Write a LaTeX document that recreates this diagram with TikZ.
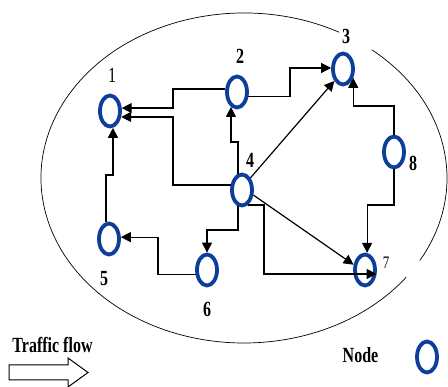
\documentclass[tikz,border=0pt]{standalone}
\usepackage{fontspec}
\usepackage{graphicx}
\setmainfont{Liberation Serif}
\usetikzlibrary{shapes.geometric,arrows.meta}
\definecolor{nodeblue}{RGB}{14,62,155}
\tikzset{
  netnode/.style={ellipse, draw=nodeblue, line width=3.8pt, fill=white,
    minimum width=20pt, minimum height=31pt, inner sep=0pt},
  lbl/.style={font=\fontsize{16}{16}\selectfont\bfseries, inner sep=0pt},
  lblr/.style={font=\fontsize{16}{16}\selectfont, inner sep=0pt},
  conn/.style={line width=1.2pt, -{Triangle[length=10pt,width=10pt]}},
  boundary/.style={line width=0.7pt},
  flowarrow/.style={line width=1pt, fill=white}
}
\newcommand{\stretchtxt}[1]{\scalebox{1}[1.35]{#1}}
\begin{document}
\begin{tikzpicture}[x=1pt,y=-1pt]
\useasboundingbox (0,0) rectangle (448,387);

% boundary ellipse with two gaps
\draw[boundary] (244,178) ++(-62:203 and 165) arc[start angle=-62, end angle=-323, x radius=203, y radius=165];
\draw[boundary] (244,178) ++(30:203 and 165) arc[start angle=30, end angle=-51, x radius=203, y radius=165];

% nodes
\node[netnode] (n1) at (110,111) {};
\node[netnode] (n2) at (237,92) {};
\node[netnode] (n3) at (343,69) {};
\node[netnode] (n4) at (242,190) {};
\node[netnode] (n5) at (109,239) {};
\node[netnode] (n6) at (207,270) {};
\node[netnode] (n7) at (365,270) {};
\node[netnode] (n8) at (394,152) {};
\node[netnode] (leg) at (427,357) {};

% labels
\node[lblr] (l1) at (112,75) {\stretchtxt{1}};
\node[lbl] (l2) at (240,56) {\stretchtxt{2}};
\node[lbl] (l3) at (346,36) {\stretchtxt{3}};
\node[lbl] (l4) at (250,160) {\stretchtxt{4}};
\node[lbl] (l5) at (104,279) {\stretchtxt{5}};
\node[lbl] (l6) at (207,309) {\stretchtxt{6}};
\node[lblr, font=\fontsize{13}{13}\selectfont] (l7) at (386,263) {\stretchtxt{7}};
\node[lbl] (l8) at (413,163) {\stretchtxt{8}};
\node[lbl] (tf) at (52.5,345) {\stretchtxt{Traffic flow}};
\node[lbl] (nd) at (360.5,355) {\stretchtxt{Node}};

% connectors
\draw[conn] (n2.166) -- (n2.166 -| 173,0) -- (n1.14 -| 173,0) -- (n1.14);
\draw[conn] (n4.156) -- (n4.156 -| 173,0) -- (n1.-28 -| 173,0) -- (n1.-28);
\draw[conn] (n4.104) -- (n4.104 |- 0,142) -- (n2.248 |- 0,142) -- (n2.248);
\draw[conn] (n2.-23) -- (n2.-23 -| 290,0) -- (n3.175 -| 290,0) -- (n3.175);
\draw[conn] (n4.55) -- (n3.234);
\draw[conn] (n8.north) -- (n8.north |- 0,106) -- (n3.-41 |- 0,106) -- (n3.-41);
\draw[conn] (n8.south) -- (n8.south |- 0,205) -- (n7.83 |- 0,205) -- (n7.83);
\draw[conn] (n4.-24) -- (n7.155);
\draw[conn] (n4.-68) -- (n4.-68 -| 264,0) -- (n7.-19 -| 264,0) -- (n7.-19);
\draw[conn] (n4.256) -- (n4.256 |- 0,230) -- (n6.north |- 0,230) -- (n6.north);
\draw[conn] (n6.203) -- (n6.203 -| 158,0) -- (n5.9 -| 158,0) -- (n5.9);
\draw[conn] (n5.100) -- (n5.100 |- 0,175) -- (n1.-80 |- 0,175) -- (n1.-80);

% traffic flow arrow
\draw[flowarrow] (9,365) -- (68,365) -- (68,358) -- (88,372.5) -- (68,387) -- (68,380) -- (9,380) -- cycle;
\end{tikzpicture}
\end{document}
